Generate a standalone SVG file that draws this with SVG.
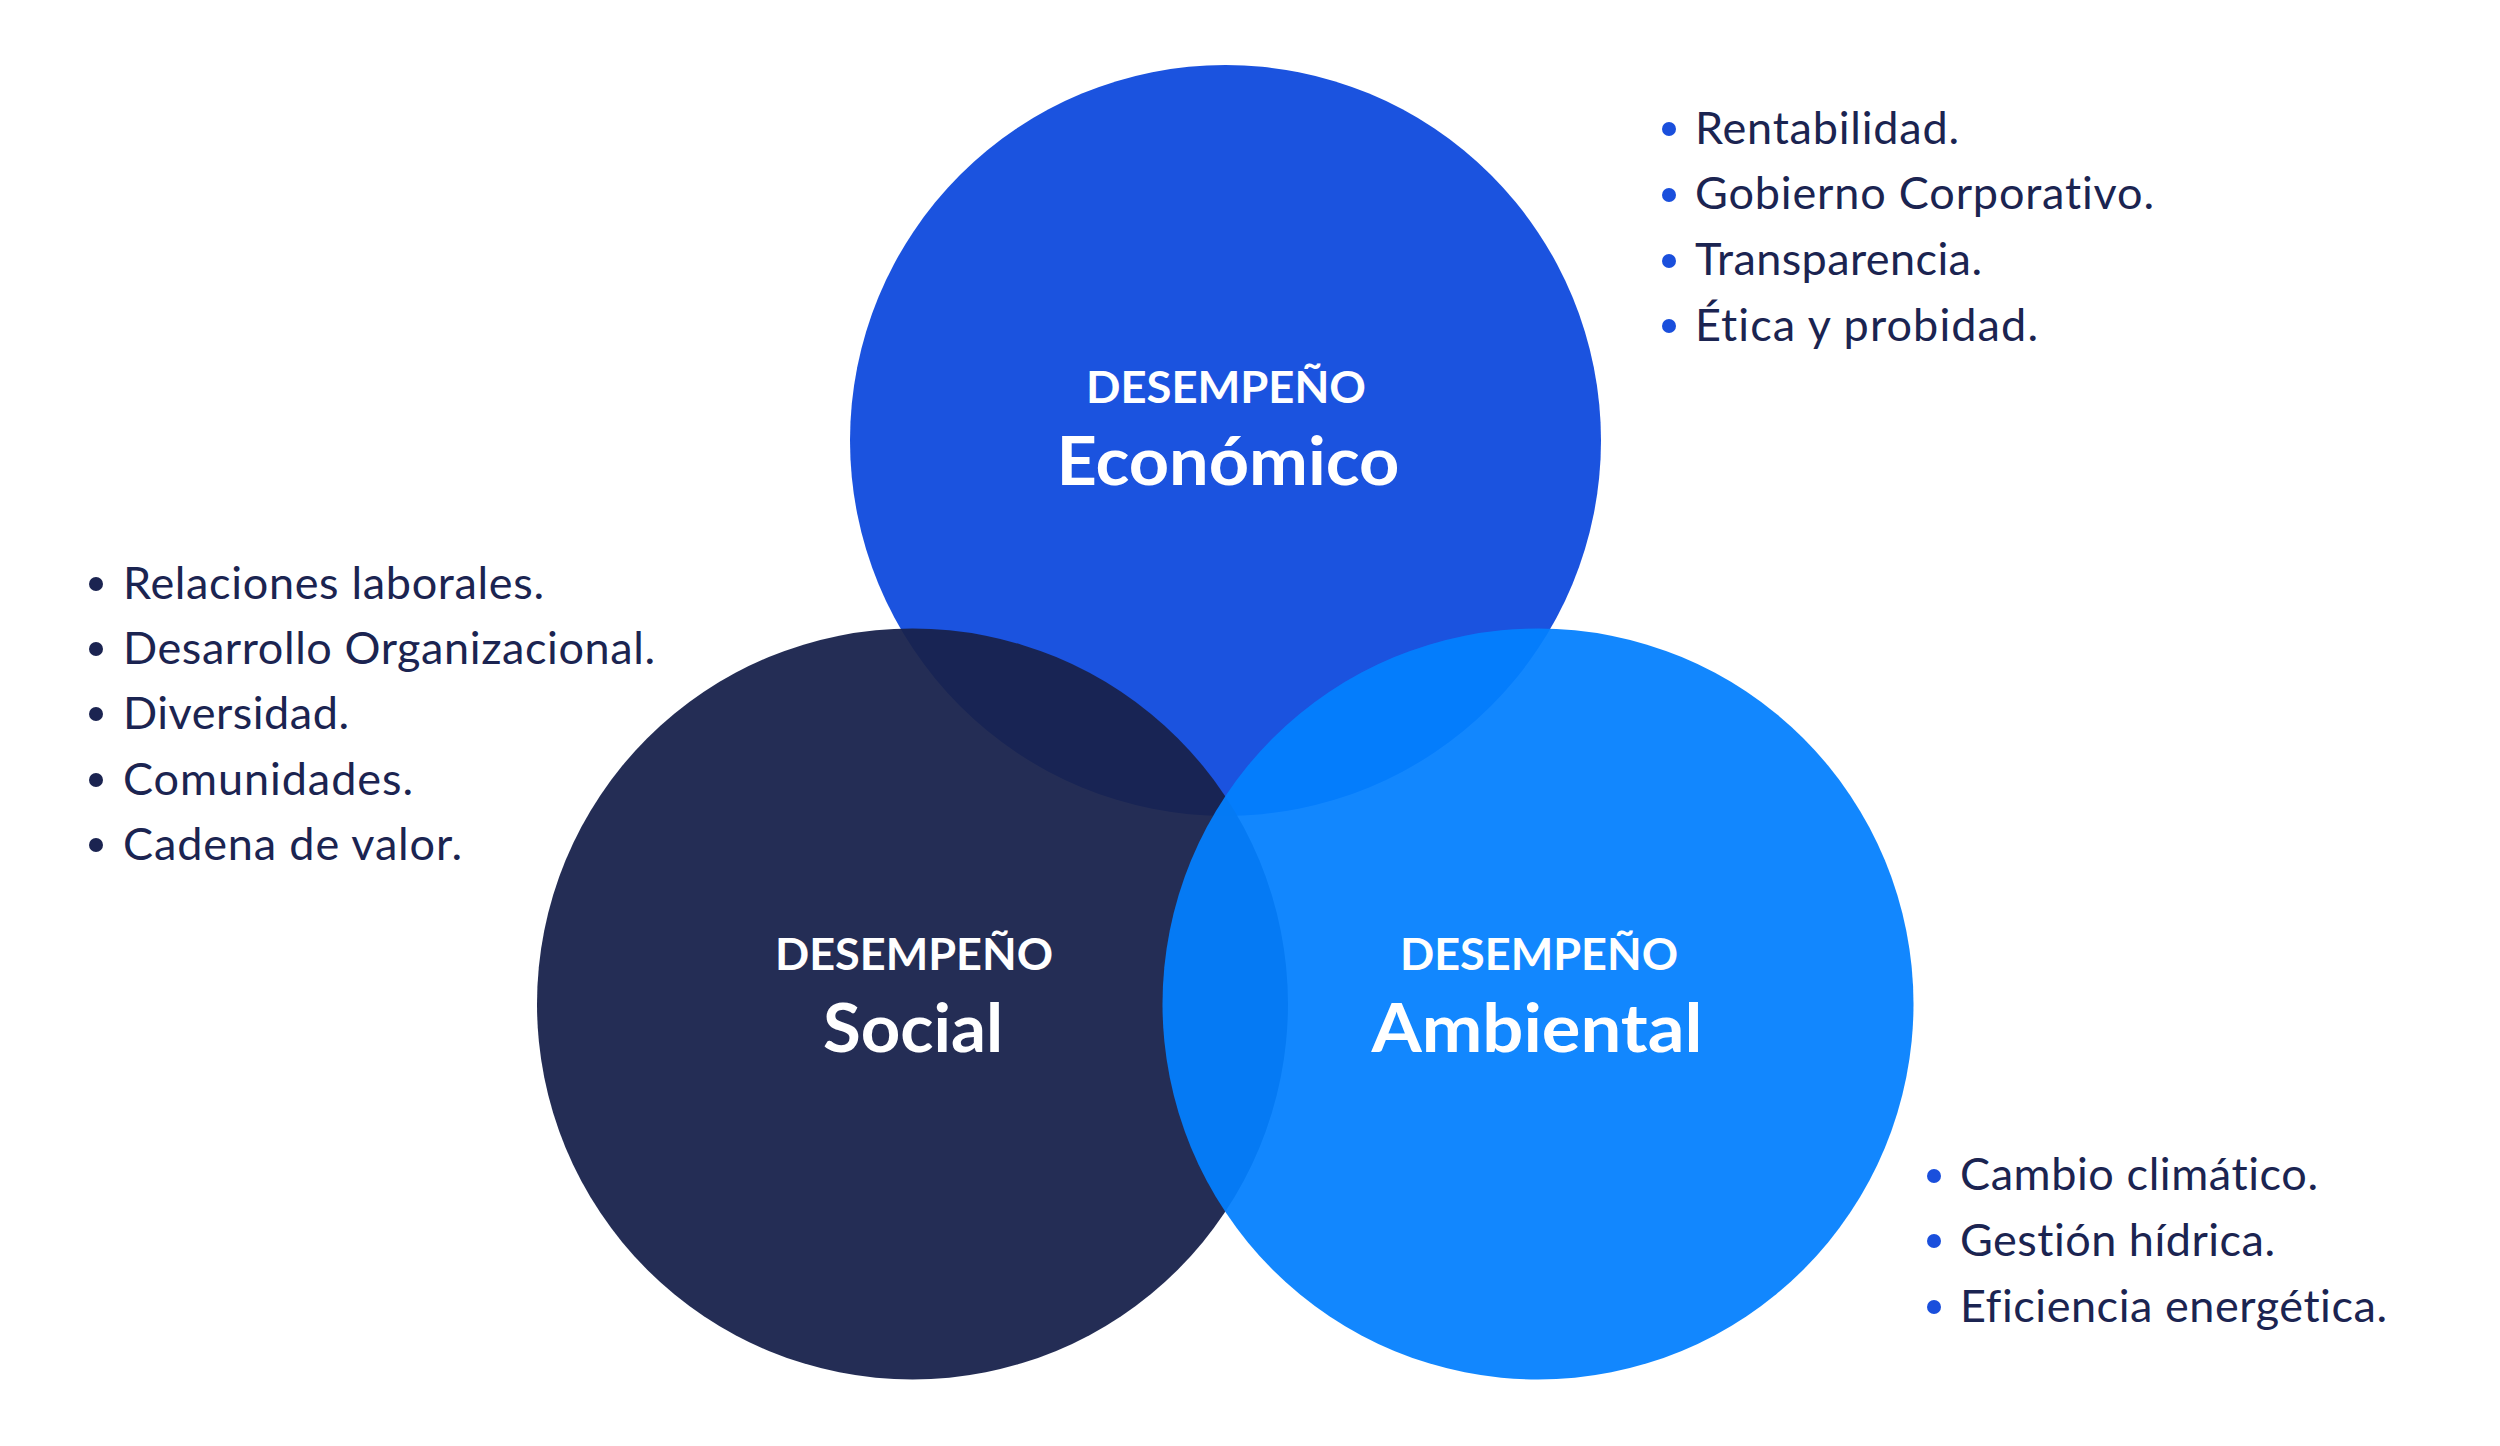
<svg xmlns="http://www.w3.org/2000/svg" width="2500" height="1446" viewBox="0 0 2500 1446">
<style>
text{font-variant-ligatures:none}
.h1{font-family:Lato,"Open Sans","Liberation Sans",sans-serif;font-weight:700;fill:#ffffff;text-anchor:middle}
.sm{font-size:43px}
.lg{font-size:66px}
.li{font-family:Lato,"Open Sans","Liberation Sans",sans-serif;font-size:45px;fill:#1b2451}
.bb{fill:#1a4fdc}
.bn{fill:#1b2451}
</style>
<rect width="2500" height="1446" fill="#ffffff"/>
<g id="economico">
<circle cx="1225.5" cy="440.5" r="375.5" fill="#1b53df"/>
</g>
<g id="social">
<circle cx="912.5" cy="1004" r="375.5" fill="#18224c" fill-opacity="0.95"/>
</g>
<g id="ambiental">
<circle cx="1538" cy="1004" r="375.5" fill="#037ffe" fill-opacity="0.94"/>
</g>
<g id="labels">
<text class="h1 sm" x="1226" y="403" textLength="280" lengthAdjust="spacingAndGlyphs">DESEMPEÑO</text>
<text class="h1 lg" x="1228" y="485" textLength="343" lengthAdjust="spacingAndGlyphs">Económico</text>
<text class="h1 sm" x="914" y="970" textLength="278" lengthAdjust="spacingAndGlyphs">DESEMPEÑO</text>
<text class="h1 lg" x="913" y="1052" textLength="180" lengthAdjust="spacingAndGlyphs">Social</text>
<text class="h1 sm" x="1539" y="970" textLength="278" lengthAdjust="spacingAndGlyphs">DESEMPEÑO</text>
<text class="h1 lg" x="1537" y="1052" textLength="331" lengthAdjust="spacingAndGlyphs">Ambiental</text>
</g>
<g id="lista-economico">
<circle class="bb" cx="1669" cy="129" r="7"/>
<circle class="bb" cx="1669" cy="195" r="7"/>
<circle class="bb" cx="1669" cy="261" r="7"/>
<circle class="bb" cx="1669" cy="326" r="7"/>
<text class="li" x="1695" y="144" textLength="264">Rentabilidad.</text>
<text class="li" x="1695" y="209" textLength="459">Gobierno Corporativo.</text>
<text class="li" x="1695" y="275" textLength="287">Transparencia.</text>
<text class="li" x="1695" y="341" textLength="343">Ética y probidad.</text>
</g>
<g id="lista-social">
<circle class="bn" cx="96" cy="584" r="7"/>
<circle class="bn" cx="96" cy="649" r="7"/>
<circle class="bn" cx="96" cy="714" r="7"/>
<circle class="bn" cx="96" cy="780" r="7"/>
<circle class="bn" cx="96" cy="845" r="7"/>
<text class="li" x="123" y="599" textLength="421">Relaciones laborales.</text>
<text class="li" x="123" y="664" textLength="532">Desarrollo Organizacional.</text>
<text class="li" x="123" y="729" textLength="226">Diversidad.</text>
<text class="li" x="123" y="795" textLength="290">Comunidades.</text>
<text class="li" x="123" y="860" textLength="339">Cadena de valor.</text>
</g>
<g id="lista-ambiental">
<circle class="bb" cx="1934" cy="1176" r="7"/>
<circle class="bb" cx="1934" cy="1241" r="7"/>
<circle class="bb" cx="1934" cy="1307" r="7"/>
<text class="li" x="1960" y="1190" textLength="358">Cambio climático.</text>
<text class="li" x="1960" y="1256" textLength="315">Gestión hídrica.</text>
<text class="li" x="1960" y="1322" textLength="427">Eficiencia energética.</text>
</g>
</svg>
